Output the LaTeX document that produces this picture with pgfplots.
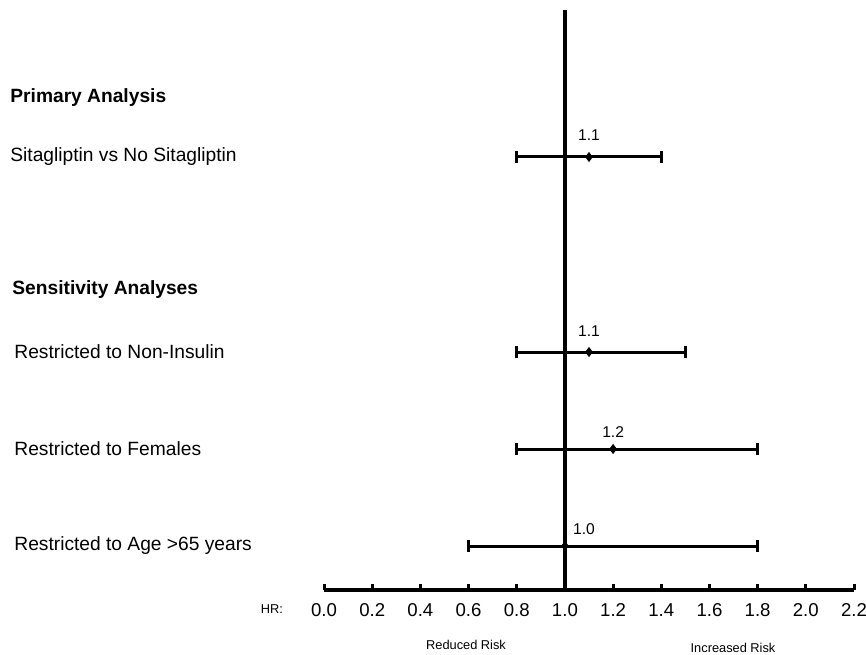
\documentclass[border=0pt]{standalone}
\usepackage{pgfplots}
\pgfplotsset{compat=1.18}
\usepackage{pgfplotstable}
\usepackage{fontspec}
\setmainfont{Liberation Sans}
\pgfplotstableread{
hr   pos  ep   em
1.1  433  0.3  0.3
1.1  238  0.4  0.3
1.2  141  0.6  0.4
1.0  44   0.8  0.4
}\hrdata
\begin{document}
\begin{tikzpicture}[x=0.5pt,y=0.5pt]
\useasboundingbox (0,0) rectangle (866,654);
\begin{axis}[
  at={(162pt,32pt)}, anchor=origin,
  scale only axis, width=265pt, height=290pt,
  xmin=0, xmax=2.2, ymin=0, ymax=580,
  axis x line=bottom, axis y line=none,
  x axis line style={-, line width=2pt},
  xtick={0,0.2,...,2.2},
  xticklabels={0.0,0.2,0.4,0.6,0.8,1.0,1.2,1.4,1.6,1.8,2.0,2.2},
  tick align=inside, major tick length=3pt,
  xtick style={line width=1.5pt, black},
  x tick label style={font=\fontsize{9.3}{10}\selectfont, text height=7pt, text depth=0pt, yshift=-2.5pt},
  /pgf/number format/assume math mode=true,
  clip=false,
]
\addplot[black, line width=2pt] coordinates {(1,0) (1,580)};
\addplot[black, only marks, mark=diamond*, mark size=2.2pt,
  error bars/.cd, x dir=both, x explicit, error mark=|,
  error bar style={line width=1.5pt, black},
  error mark options={line width=1.3pt, mark size=3pt, black}]
  table[x=hr, y=pos, x error plus=ep, x error minus=em] {\hrdata};
\node[font=\fontsize{7.8}{9}\selectfont] at (axis cs:1.1,455) {1.1};
\node[font=\fontsize{7.8}{9}\selectfont] at (axis cs:1.1,259) {1.1};
\node[font=\fontsize{7.8}{9}\selectfont] at (axis cs:1.2,158) {1.2};
\node[font=\fontsize{7.8}{9}\selectfont] at (axis cs:1.079,61) {1.0};
\end{axis}
\node[anchor=west, font=\fontsize{9.6}{11}\selectfont\bfseries, inner sep=0pt] at (10,556) {Primary Analysis};
\node[anchor=west, font=\fontsize{9.6}{11}\selectfont, inner sep=0pt] at (10,497) {Sitagliptin vs No Sitagliptin};
\node[anchor=west, font=\fontsize{9.6}{11}\selectfont\bfseries, inner sep=0pt] at (12,364) {Sensitivity Analyses};
\node[anchor=west, font=\fontsize{9.6}{11}\selectfont, inner sep=0pt] at (14,302) {Restricted to Non-Insulin};
\node[anchor=west, font=\fontsize{9.6}{11}\selectfont, inner sep=0pt] at (14,205) {Restricted to Females};
\node[anchor=west, font=\fontsize{9.6}{11}\selectfont, inner sep=0pt] at (14,108) {Restricted to Age >65 years};
\node[font=\fontsize{6.4}{8}\selectfont, inner sep=0pt] at (272,45) {HR:};
\node[font=\fontsize{6.4}{8}\selectfont, inner sep=0pt] at (466,9) {Reduced Risk};
\node[font=\fontsize{6.4}{8}\selectfont, inner sep=0pt] at (733,6) {Increased Risk};
\end{tikzpicture}
\end{document}
